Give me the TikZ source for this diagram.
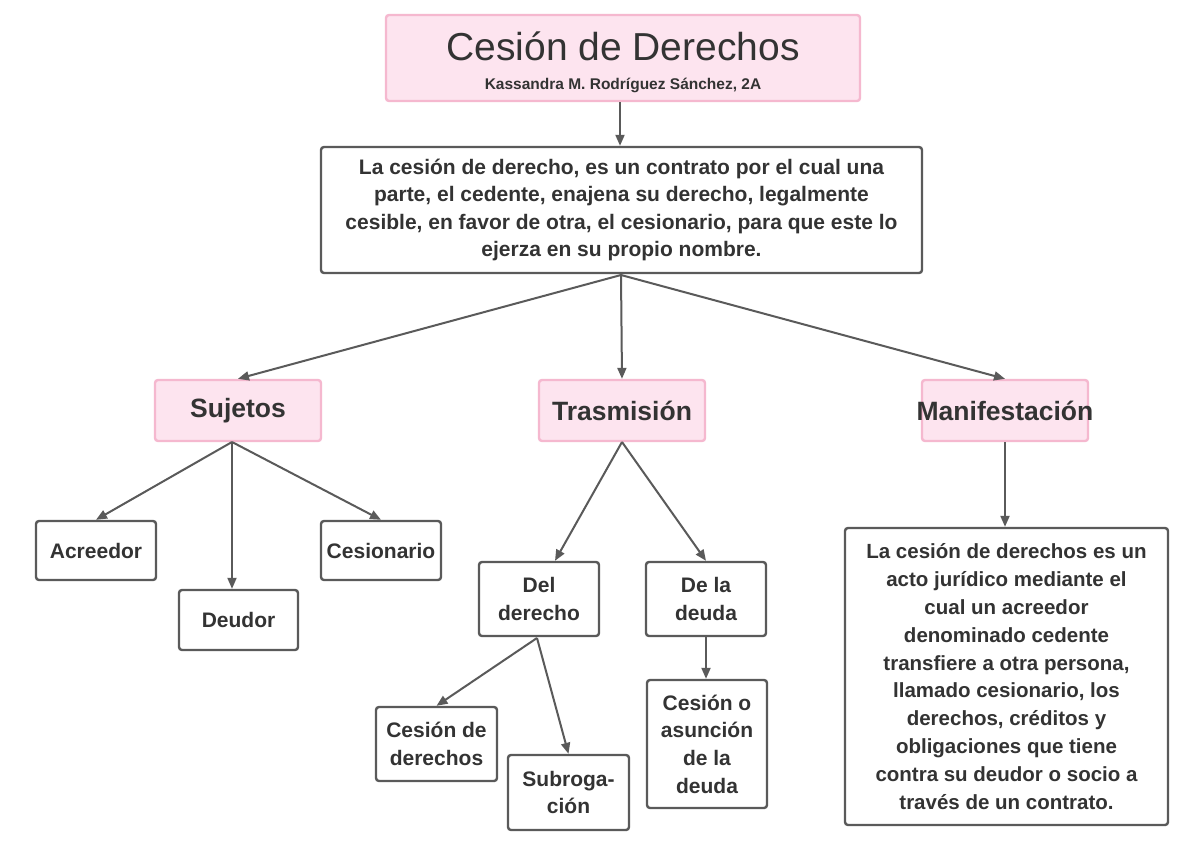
\documentclass[tikz,border=0pt]{standalone}
\usepackage{fontspec}
\setmainfont{Liberation Sans}
\usetikzlibrary{arrows.meta}
\definecolor{pinkfill}{HTML}{FDE4EF}
\definecolor{pinkline}{HTML}{F5B8CF}
\definecolor{boxline}{HTML}{5A5A5A}
\definecolor{txt}{HTML}{333333}
\tikzset{
  pinkbox/.style={draw=pinkline, fill=pinkfill, line width=2.4pt, rounded corners=3pt, inner sep=0pt, align=center, text=txt},
  whitebox/.style={draw=boxline, fill=white, line width=2.4pt, rounded corners=3pt, inner sep=0pt, align=center, text=txt},
  smallfont/.style={font=\fontsize{21}{27.7}\selectfont\bfseries},
  headfont/.style={font=\fontsize{26.5}{30}\selectfont\bfseries},
  conn/.style={draw=boxline, line width=2pt, -{Triangle[length=11pt,width=9pt]}},
}
\begin{document}
\begin{tikzpicture}[x=1pt,y=-1pt]
\useasboundingbox (0,0) rectangle (1200,857);
\fill[white] (0,0) rectangle (1200,857);
% title
\node[pinkbox, minimum width=474pt, minimum height=86pt, font=\fontsize{15.5}{29.5}\selectfont] (title) at (623,58)
  {\rule{0pt}{37pt}{\fontsize{39}{40}\selectfont Cesión de Derechos}\\{\bfseries Kassandra M. Rodríguez Sánchez, 2A}};
% definition
\node[whitebox, minimum width=601pt, minimum height=126pt, font=\fontsize{21}{27.3}\selectfont\bfseries] (def) at (621.5,210)
  {La cesión de derecho, es un contrato por el cual una\\parte, el cedente, enajena su derecho, legalmente\\cesible, en favor de otra, el cesionario, para que este lo\\ejerza en su propio nombre.};
% level 2
\node[pinkbox, minimum width=166pt, minimum height=61pt, headfont] (suj) at (238,410.5) {Sujetos};
\node[pinkbox, minimum width=166pt, minimum height=61pt, headfont] (tra) at (622,410.5) {Trasmisión};
\node[pinkbox, minimum width=166pt, minimum height=61pt, headfont] (man) at (1005,410.5) {\makebox[0pt]{Manifestación}};
% sujetos children
\node[whitebox, minimum width=120pt, minimum height=59pt, smallfont] (acr) at (96,550.5) {Acreedor};
\node[whitebox, minimum width=119pt, minimum height=60pt, smallfont] (deu) at (238.5,620) {Deudor};
\node[whitebox, minimum width=120pt, minimum height=59pt, smallfont] (ces) at (381,550.5) {Cesionario};
% trasmision children
\node[whitebox, minimum width=120pt, minimum height=74pt, smallfont] (del) at (539,599) {Del\\derecho};
\node[whitebox, minimum width=120pt, minimum height=74pt, smallfont] (dela) at (706,599) {De la\\deuda};
\node[whitebox, minimum width=121pt, minimum height=74pt, smallfont] (cdd) at (436.5,744) {Cesión de\\derechos};
\node[whitebox, minimum width=121pt, minimum height=75pt, smallfont] (sub) at (568.5,792.5) {Subroga-\\ción};
\node[whitebox, minimum width=120pt, minimum height=128pt, smallfont] (coa) at (707,744) {Cesión o\\asunción\\de la\\deuda};
% manifestacion child
\node[whitebox, minimum width=323pt, minimum height=297pt, font=\fontsize{20.5}{27.8}\selectfont\bfseries] (big) at (1006.5,676.5)
  {La cesión de derechos es un\\acto jurídico mediante el\\cual un acreedor\\denominado cedente\\transfiere a otra persona,\\llamado cesionario, los\\derechos, créditos y\\obligaciones que tiene\\contra su deudor o socio a\\través de un contrato.};
% connectors
\coordinate (defb) at (621,275);
\draw[conn] (title.south -| 620,0) -- (def.north -| 620,0);
\draw[conn] (defb) -- (suj.north);
\draw[conn] (defb) -- (tra.north);
\draw[conn] (defb) -- (man.north);
\coordinate (sujb) at (232,442);
\draw[conn] (sujb) -- (acr.north);
\draw[conn] (sujb) -- (deu.north -| sujb);
\draw[conn] (sujb) -- (ces.north);
\coordinate (trab) at (622,442);
\draw[conn] (trab) -- (del.north -| 555,0);
\draw[conn] (trab) -- (dela.north);
\coordinate (delb) at (537,638);
\draw[conn] (delb) -- (cdd.north);
\draw[conn] (delb) -- (sub.north);
\draw[conn] (dela.south) -- (coa.north -| dela.south);
\draw[conn] (man.south) -- (big.north -| man.south);
\end{tikzpicture}
\end{document}
